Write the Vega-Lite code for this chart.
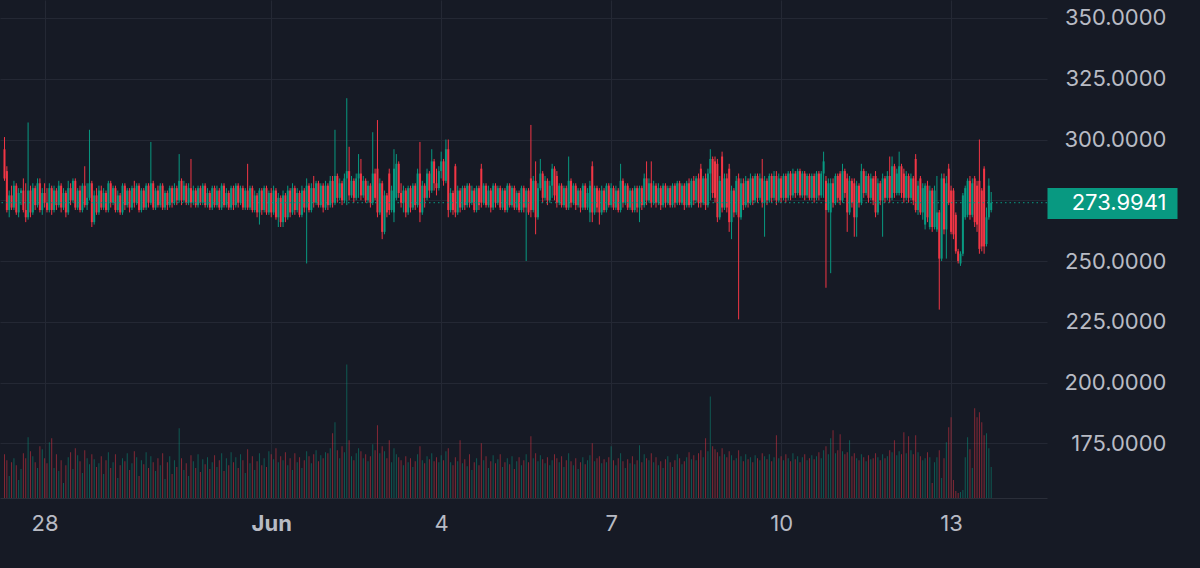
{
  "$schema": "https://vega.github.io/schema/vega-lite/v6.json",
  "width": 1047,
  "height": 498,
  "autosize": {"type": "none"},
  "padding": {"left": 0, "top": 0, "right": 153, "bottom": 70},
  "background": "#161a25",
  "layer": [
    {
      "data": {
        "format": {"parse": {"t": "utc:'%m-%d %H'"}},
        "values": [
          {"t":"05-27 07","o":296,"h":301,"l":283,"c":284,"v":44},
          {"t":"05-27 08","o":287,"h":289,"l":270,"c":271,"v":38},
          {"t":"05-27 09","o":271,"h":279,"l":268,"c":277,"v":22},
          {"t":"05-27 10","o":277,"h":281,"l":271,"c":272,"v":36},
          {"t":"05-27 11","o":272,"h":283,"l":271,"c":281,"v":40},
          {"t":"05-27 12","o":281,"h":282,"l":269,"c":270,"v":33},
          {"t":"05-27 13","o":270,"h":280,"l":268,"c":278,"v":18},
          {"t":"05-27 14","o":278,"h":280,"l":273,"c":279,"v":29},
          {"t":"05-27 15","o":279,"h":284,"l":270,"c":271,"v":45},
          {"t":"05-27 16","o":271,"h":282,"l":266,"c":268,"v":40},
          {"t":"05-27 17","o":268,"h":307,"l":267,"c":279,"v":61},
          {"t":"05-27 18","o":279,"h":281,"l":268,"c":270,"v":47},
          {"t":"05-27 19","o":270,"h":282,"l":269,"c":280,"v":42},
          {"t":"05-27 20","o":280,"h":281,"l":271,"c":273,"v":36},
          {"t":"05-27 21","o":273,"h":284,"l":272,"c":282,"v":30},
          {"t":"05-27 22","o":282,"h":284,"l":270,"c":271,"v":52},
          {"t":"05-27 23","o":271,"h":280,"l":269,"c":278,"v":49},
          {"t":"05-28 00","o":278,"h":282,"l":272,"c":274,"v":40},
          {"t":"05-28 01","o":274,"h":280,"l":270,"c":271,"v":35},
          {"t":"05-28 02","o":271,"h":282,"l":270,"c":280,"v":56},
          {"t":"05-28 03","o":280,"h":281,"l":269,"c":271,"v":60},
          {"t":"05-28 04","o":271,"h":281,"l":270,"c":279,"v":30},
          {"t":"05-28 05","o":279,"h":280,"l":271,"c":273,"v":44},
          {"t":"05-28 06","o":273,"h":283,"l":272,"c":281,"v":27},
          {"t":"05-28 07","o":281,"h":282,"l":270,"c":272,"v":38},
          {"t":"05-28 08","o":272,"h":280,"l":271,"c":278,"v":15},
          {"t":"05-28 09","o":278,"h":279,"l":268,"c":270,"v":33},
          {"t":"05-28 10","o":270,"h":283,"l":269,"c":280,"v":41},
          {"t":"05-28 11","o":280,"h":282,"l":273,"c":275,"v":46},
          {"t":"05-28 12","o":275,"h":284,"l":274,"c":283,"v":29},
          {"t":"05-28 13","o":283,"h":284,"l":271,"c":272,"v":50},
          {"t":"05-28 14","o":272,"h":280,"l":271,"c":279,"v":43},
          {"t":"05-28 15","o":279,"h":281,"l":270,"c":271,"v":37},
          {"t":"05-28 16","o":271,"h":282,"l":270,"c":281,"v":25},
          {"t":"05-28 17","o":281,"h":289,"l":272,"c":273,"v":48},
          {"t":"05-28 18","o":273,"h":282,"l":271,"c":276,"v":40},
          {"t":"05-28 19","o":276,"h":304,"l":275,"c":282,"v":34},
          {"t":"05-28 20","o":282,"h":283,"l":264,"c":266,"v":44},
          {"t":"05-28 21","o":266,"h":279,"l":265,"c":277,"v":39},
          {"t":"05-28 22","o":277,"h":280,"l":269,"c":270,"v":31},
          {"t":"05-28 23","o":270,"h":281,"l":269,"c":279,"v":35},
          {"t":"05-29 00","o":279,"h":281,"l":271,"c":272,"v":42},
          {"t":"05-29 01","o":272,"h":280,"l":271,"c":278,"v":24},
          {"t":"05-29 02","o":278,"h":279,"l":270,"c":271,"v":38},
          {"t":"05-29 03","o":271,"h":283,"l":270,"c":282,"v":46},
          {"t":"05-29 04","o":282,"h":283,"l":272,"c":274,"v":30},
          {"t":"05-29 05","o":274,"h":281,"l":273,"c":280,"v":36},
          {"t":"05-29 06","o":280,"h":281,"l":270,"c":271,"v":44},
          {"t":"05-29 07","o":271,"h":279,"l":270,"c":277,"v":20},
          {"t":"05-29 08","o":277,"h":278,"l":269,"c":270,"v":33},
          {"t":"05-29 09","o":270,"h":282,"l":269,"c":281,"v":40},
          {"t":"05-29 10","o":281,"h":282,"l":271,"c":273,"v":37},
          {"t":"05-29 11","o":273,"h":280,"l":272,"c":279,"v":45},
          {"t":"05-29 12","o":279,"h":280,"l":270,"c":272,"v":28},
          {"t":"05-29 13","o":272,"h":281,"l":271,"c":280,"v":35},
          {"t":"05-29 14","o":280,"h":283,"l":272,"c":274,"v":47},
          {"t":"05-29 15","o":274,"h":282,"l":273,"c":281,"v":41},
          {"t":"05-29 16","o":281,"h":282,"l":270,"c":271,"v":22},
          {"t":"05-29 17","o":271,"h":280,"l":270,"c":279,"v":38},
          {"t":"05-29 18","o":279,"h":280,"l":271,"c":272,"v":34},
          {"t":"05-29 19","o":272,"h":282,"l":271,"c":281,"v":46},
          {"t":"05-29 20","o":281,"h":282,"l":272,"c":274,"v":30},
          {"t":"05-29 21","o":274,"h":299,"l":273,"c":282,"v":42},
          {"t":"05-29 22","o":282,"h":283,"l":271,"c":272,"v":36},
          {"t":"05-29 23","o":272,"h":280,"l":271,"c":279,"v":27},
          {"t":"05-30 00","o":279,"h":281,"l":272,"c":273,"v":40},
          {"t":"05-30 01","o":273,"h":282,"l":272,"c":281,"v":33},
          {"t":"05-30 02","o":281,"h":282,"l":271,"c":272,"v":45},
          {"t":"05-30 03","o":272,"h":279,"l":271,"c":278,"v":19},
          {"t":"05-30 04","o":278,"h":279,"l":271,"c":273,"v":36},
          {"t":"05-30 05","o":273,"h":281,"l":272,"c":280,"v":42},
          {"t":"05-30 06","o":280,"h":281,"l":272,"c":274,"v":24},
          {"t":"05-30 07","o":274,"h":282,"l":273,"c":280,"v":38},
          {"t":"05-30 08","o":280,"h":281,"l":273,"c":275,"v":31},
          {"t":"05-30 09","o":275,"h":294,"l":274,"c":283,"v":70},
          {"t":"05-30 10","o":283,"h":284,"l":273,"c":275,"v":40},
          {"t":"05-30 11","o":275,"h":283,"l":274,"c":281,"v":28},
          {"t":"05-30 12","o":281,"h":282,"l":273,"c":274,"v":35},
          {"t":"05-30 13","o":274,"h":282,"l":273,"c":280,"v":22},
          {"t":"05-30 14","o":280,"h":292,"l":272,"c":274,"v":43},
          {"t":"05-30 15","o":274,"h":281,"l":273,"c":279,"v":37},
          {"t":"05-30 16","o":279,"h":280,"l":272,"c":273,"v":30},
          {"t":"05-30 17","o":273,"h":281,"l":272,"c":280,"v":44},
          {"t":"05-30 18","o":280,"h":281,"l":273,"c":274,"v":26},
          {"t":"05-30 19","o":274,"h":282,"l":273,"c":281,"v":39},
          {"t":"05-30 20","o":281,"h":282,"l":272,"c":273,"v":34},
          {"t":"05-30 21","o":273,"h":280,"l":272,"c":278,"v":41},
          {"t":"05-30 22","o":278,"h":279,"l":271,"c":272,"v":29},
          {"t":"05-30 23","o":272,"h":281,"l":271,"c":280,"v":36},
          {"t":"05-31 00","o":280,"h":281,"l":272,"c":273,"v":43},
          {"t":"05-31 01","o":273,"h":281,"l":272,"c":279,"v":31},
          {"t":"05-31 02","o":279,"h":280,"l":271,"c":272,"v":38},
          {"t":"05-31 03","o":272,"h":282,"l":271,"c":281,"v":45},
          {"t":"05-31 04","o":281,"h":282,"l":272,"c":273,"v":27},
          {"t":"05-31 05","o":273,"h":280,"l":272,"c":278,"v":40},
          {"t":"05-31 06","o":278,"h":279,"l":271,"c":272,"v":33},
          {"t":"05-31 07","o":272,"h":281,"l":271,"c":280,"v":46},
          {"t":"05-31 08","o":280,"h":281,"l":271,"c":273,"v":36},
          {"t":"05-31 09","o":273,"h":282,"l":272,"c":281,"v":41},
          {"t":"05-31 10","o":281,"h":282,"l":272,"c":274,"v":30},
          {"t":"05-31 11","o":274,"h":281,"l":273,"c":280,"v":44},
          {"t":"05-31 12","o":280,"h":281,"l":271,"c":272,"v":38},
          {"t":"05-31 13","o":272,"h":280,"l":271,"c":279,"v":25},
          {"t":"05-31 14","o":279,"h":290,"l":271,"c":272,"v":49},
          {"t":"05-31 15","o":272,"h":281,"l":271,"c":280,"v":35},
          {"t":"05-31 16","o":280,"h":281,"l":270,"c":271,"v":42},
          {"t":"05-31 17","o":271,"h":279,"l":270,"c":277,"v":28},
          {"t":"05-31 18","o":277,"h":278,"l":268,"c":270,"v":37},
          {"t":"05-31 19","o":270,"h":280,"l":265,"c":279,"v":45},
          {"t":"05-31 20","o":279,"h":280,"l":269,"c":271,"v":33},
          {"t":"05-31 21","o":271,"h":281,"l":270,"c":280,"v":40},
          {"t":"05-31 22","o":280,"h":281,"l":269,"c":270,"v":31},
          {"t":"05-31 23","o":270,"h":279,"l":269,"c":278,"v":47},
          {"t":"06-01 00","o":278,"h":280,"l":268,"c":270,"v":44},
          {"t":"06-01 01","o":270,"h":281,"l":269,"c":279,"v":39},
          {"t":"06-01 02","o":279,"h":280,"l":267,"c":268,"v":50},
          {"t":"06-01 03","o":268,"h":278,"l":264,"c":276,"v":36},
          {"t":"06-01 04","o":276,"h":277,"l":264,"c":266,"v":42},
          {"t":"06-01 05","o":266,"h":279,"l":264,"c":277,"v":38},
          {"t":"06-01 06","o":277,"h":278,"l":266,"c":268,"v":46},
          {"t":"06-01 07","o":268,"h":281,"l":267,"c":279,"v":33},
          {"t":"06-01 08","o":279,"h":280,"l":268,"c":270,"v":40},
          {"t":"06-01 09","o":270,"h":282,"l":269,"c":280,"v":28},
          {"t":"06-01 10","o":280,"h":281,"l":269,"c":271,"v":45},
          {"t":"06-01 11","o":271,"h":280,"l":270,"c":278,"v":36},
          {"t":"06-01 12","o":278,"h":279,"l":268,"c":269,"v":41},
          {"t":"06-01 13","o":269,"h":281,"l":268,"c":279,"v":30},
          {"t":"06-01 14","o":279,"h":280,"l":270,"c":272,"v":38},
          {"t":"06-01 15","o":272,"h":284,"l":249,"c":281,"v":47},
          {"t":"06-01 16","o":281,"h":282,"l":270,"c":271,"v":42},
          {"t":"06-01 17","o":271,"h":282,"l":270,"c":280,"v":35},
          {"t":"06-01 18","o":280,"h":285,"l":272,"c":274,"v":44},
          {"t":"06-01 19","o":274,"h":283,"l":273,"c":282,"v":48},
          {"t":"06-01 20","o":282,"h":283,"l":272,"c":273,"v":37},
          {"t":"06-01 21","o":273,"h":282,"l":272,"c":281,"v":43},
          {"t":"06-01 22","o":281,"h":282,"l":270,"c":272,"v":40},
          {"t":"06-01 23","o":272,"h":283,"l":271,"c":281,"v":46},
          {"t":"06-02 00","o":281,"h":282,"l":271,"c":273,"v":45},
          {"t":"06-02 01","o":273,"h":285,"l":272,"c":283,"v":50},
          {"t":"06-02 02","o":283,"h":285,"l":272,"c":274,"v":65},
          {"t":"06-02 03","o":274,"h":304,"l":273,"c":285,"v":76},
          {"t":"06-02 04","o":285,"h":286,"l":274,"c":276,"v":48},
          {"t":"06-02 05","o":276,"h":284,"l":275,"c":282,"v":40},
          {"t":"06-02 06","o":282,"h":283,"l":273,"c":275,"v":52},
          {"t":"06-02 07","o":275,"h":286,"l":274,"c":284,"v":46},
          {"t":"06-02 08","o":284,"h":317,"l":273,"c":287,"v":134},
          {"t":"06-02 09","o":287,"h":297,"l":275,"c":277,"v":58},
          {"t":"06-02 10","o":277,"h":285,"l":276,"c":283,"v":42},
          {"t":"06-02 11","o":283,"h":284,"l":274,"c":276,"v":38},
          {"t":"06-02 12","o":276,"h":286,"l":275,"c":284,"v":45},
          {"t":"06-02 13","o":284,"h":294,"l":276,"c":286,"v":50},
          {"t":"06-02 14","o":286,"h":292,"l":275,"c":277,"v":47},
          {"t":"06-02 15","o":277,"h":285,"l":276,"c":283,"v":40},
          {"t":"06-02 16","o":283,"h":284,"l":274,"c":275,"v":44},
          {"t":"06-02 17","o":275,"h":283,"l":274,"c":281,"v":37},
          {"t":"06-02 18","o":281,"h":282,"l":272,"c":274,"v":42},
          {"t":"06-02 19","o":274,"h":303,"l":273,"c":286,"v":54},
          {"t":"06-02 20","o":286,"h":288,"l":275,"c":276,"v":48},
          {"t":"06-02 21","o":288,"h":308,"l":268,"c":270,"v":73},
          {"t":"06-02 22","o":270,"h":284,"l":269,"c":282,"v":45},
          {"t":"06-02 23","o":282,"h":283,"l":259,"c":262,"v":52},
          {"t":"06-03 00","o":262,"h":279,"l":261,"c":277,"v":47},
          {"t":"06-03 01","o":277,"h":278,"l":268,"c":270,"v":40},
          {"t":"06-03 02","o":286,"h":288,"l":269,"c":271,"v":58},
          {"t":"06-03 03","o":271,"h":281,"l":270,"c":279,"v":36},
          {"t":"06-03 04","o":270,"h":296,"l":266,"c":288,"v":50},
          {"t":"06-03 05","o":276,"h":294,"l":275,"c":290,"v":44},
          {"t":"06-03 06","o":290,"h":291,"l":276,"c":278,"v":41},
          {"t":"06-03 07","o":278,"h":282,"l":272,"c":274,"v":38},
          {"t":"06-03 08","o":274,"h":281,"l":270,"c":279,"v":33},
          {"t":"06-03 09","o":279,"h":280,"l":268,"c":270,"v":42},
          {"t":"06-03 10","o":270,"h":281,"l":269,"c":280,"v":36},
          {"t":"06-03 11","o":280,"h":281,"l":270,"c":272,"v":40},
          {"t":"06-03 12","o":272,"h":282,"l":271,"c":281,"v":31},
          {"t":"06-03 13","o":281,"h":282,"l":271,"c":273,"v":37},
          {"t":"06-03 14","o":273,"h":288,"l":272,"c":286,"v":44},
          {"t":"06-03 15","o":286,"h":299,"l":266,"c":270,"v":52},
          {"t":"06-03 16","o":270,"h":283,"l":269,"c":281,"v":38},
          {"t":"06-03 17","o":281,"h":282,"l":272,"c":276,"v":35},
          {"t":"06-03 18","o":276,"h":288,"l":275,"c":286,"v":42},
          {"t":"06-03 19","o":286,"h":287,"l":276,"c":279,"v":39},
          {"t":"06-03 20","o":279,"h":296,"l":278,"c":291,"v":45},
          {"t":"06-03 21","o":291,"h":292,"l":279,"c":282,"v":37},
          {"t":"06-03 22","o":282,"h":288,"l":277,"c":280,"v":41},
          {"t":"06-03 23","o":280,"h":289,"l":279,"c":287,"v":36},
          {"t":"06-04 00","o":287,"h":295,"l":284,"c":291,"v":43},
          {"t":"06-04 01","o":291,"h":292,"l":281,"c":283,"v":38},
          {"t":"06-04 02","o":283,"h":300,"l":282,"c":296,"v":47},
          {"t":"06-04 03","o":296,"h":300,"l":268,"c":271,"v":50},
          {"t":"06-04 04","o":271,"h":280,"l":270,"c":278,"v":36},
          {"t":"06-04 05","o":278,"h":279,"l":269,"c":271,"v":33},
          {"t":"06-04 06","o":289,"h":290,"l":268,"c":270,"v":41},
          {"t":"06-04 07","o":270,"h":281,"l":269,"c":279,"v":37},
          {"t":"06-04 08","o":279,"h":280,"l":270,"c":272,"v":58},
          {"t":"06-04 09","o":272,"h":281,"l":271,"c":280,"v":35},
          {"t":"06-04 10","o":280,"h":281,"l":271,"c":273,"v":39},
          {"t":"06-04 11","o":273,"h":282,"l":272,"c":281,"v":32},
          {"t":"06-04 12","o":281,"h":282,"l":272,"c":274,"v":44},
          {"t":"06-04 13","o":274,"h":281,"l":273,"c":279,"v":28},
          {"t":"06-04 14","o":279,"h":280,"l":270,"c":271,"v":36},
          {"t":"06-04 15","o":271,"h":281,"l":270,"c":280,"v":40},
          {"t":"06-04 16","o":280,"h":281,"l":271,"c":273,"v":33},
          {"t":"06-04 17","o":288,"h":290,"l":272,"c":274,"v":55},
          {"t":"06-04 18","o":274,"h":282,"l":273,"c":281,"v":38},
          {"t":"06-04 19","o":281,"h":282,"l":272,"c":273,"v":42},
          {"t":"06-04 20","o":273,"h":281,"l":272,"c":279,"v":30},
          {"t":"06-04 21","o":279,"h":280,"l":270,"c":272,"v":37},
          {"t":"06-04 22","o":272,"h":282,"l":271,"c":281,"v":43},
          {"t":"06-04 23","o":281,"h":282,"l":272,"c":274,"v":35},
          {"t":"06-05 00","o":274,"h":281,"l":273,"c":280,"v":39},
          {"t":"06-05 01","o":280,"h":281,"l":271,"c":272,"v":44},
          {"t":"06-05 02","o":272,"h":280,"l":271,"c":279,"v":31},
          {"t":"06-05 03","o":279,"h":280,"l":270,"c":271,"v":36},
          {"t":"06-05 04","o":271,"h":282,"l":270,"c":281,"v":40},
          {"t":"06-05 05","o":281,"h":282,"l":272,"c":273,"v":34},
          {"t":"06-05 06","o":273,"h":281,"l":272,"c":280,"v":42},
          {"t":"06-05 07","o":280,"h":281,"l":271,"c":272,"v":29},
          {"t":"06-05 08","o":272,"h":279,"l":271,"c":278,"v":37},
          {"t":"06-05 09","o":278,"h":279,"l":270,"c":271,"v":41},
          {"t":"06-05 10","o":271,"h":281,"l":270,"c":280,"v":33},
          {"t":"06-05 11","o":280,"h":281,"l":270,"c":272,"v":38},
          {"t":"06-05 12","o":272,"h":280,"l":250,"c":279,"v":44},
          {"t":"06-05 13","o":279,"h":280,"l":269,"c":270,"v":36},
          {"t":"06-05 14","o":284,"h":306,"l":268,"c":271,"v":62},
          {"t":"06-05 15","o":271,"h":285,"l":270,"c":283,"v":40},
          {"t":"06-05 16","o":283,"h":291,"l":261,"c":268,"v":45},
          {"t":"06-05 17","o":268,"h":282,"l":267,"c":280,"v":37},
          {"t":"06-05 18","o":280,"h":292,"l":279,"c":286,"v":43},
          {"t":"06-05 19","o":286,"h":287,"l":274,"c":276,"v":39},
          {"t":"06-05 20","o":276,"h":285,"l":275,"c":283,"v":35},
          {"t":"06-05 21","o":283,"h":284,"l":273,"c":275,"v":41},
          {"t":"06-05 22","o":275,"h":283,"l":274,"c":281,"v":33},
          {"t":"06-05 23","o":281,"h":290,"l":276,"c":288,"v":38},
          {"t":"06-06 00","o":288,"h":289,"l":275,"c":277,"v":44},
          {"t":"06-06 01","o":285,"h":287,"l":272,"c":274,"v":40},
          {"t":"06-06 02","o":274,"h":282,"l":273,"c":281,"v":36},
          {"t":"06-06 03","o":281,"h":282,"l":272,"c":273,"v":42},
          {"t":"06-06 04","o":273,"h":281,"l":272,"c":280,"v":31},
          {"t":"06-06 05","o":280,"h":281,"l":271,"c":272,"v":38},
          {"t":"06-06 06","o":272,"h":293,"l":271,"c":283,"v":45},
          {"t":"06-06 07","o":283,"h":284,"l":272,"c":274,"v":37},
          {"t":"06-06 08","o":274,"h":282,"l":273,"c":281,"v":33},
          {"t":"06-06 09","o":281,"h":282,"l":271,"c":273,"v":40},
          {"t":"06-06 10","o":273,"h":280,"l":272,"c":279,"v":29},
          {"t":"06-06 11","o":279,"h":280,"l":270,"c":272,"v":36},
          {"t":"06-06 12","o":272,"h":282,"l":271,"c":281,"v":41},
          {"t":"06-06 13","o":281,"h":282,"l":271,"c":272,"v":34},
          {"t":"06-06 14","o":272,"h":280,"l":271,"c":278,"v":38},
          {"t":"06-06 15","o":270,"h":283,"l":266,"c":281,"v":43},
          {"t":"06-06 16","o":289,"h":291,"l":266,"c":270,"v":55},
          {"t":"06-06 17","o":270,"h":281,"l":269,"c":280,"v":37},
          {"t":"06-06 18","o":280,"h":281,"l":270,"c":272,"v":40},
          {"t":"06-06 19","o":279,"h":280,"l":265,"c":270,"v":42},
          {"t":"06-06 20","o":270,"h":281,"l":269,"c":279,"v":35},
          {"t":"06-06 21","o":279,"h":280,"l":270,"c":271,"v":39},
          {"t":"06-06 22","o":271,"h":282,"l":270,"c":281,"v":36},
          {"t":"06-06 23","o":281,"h":282,"l":272,"c":273,"v":41},
          {"t":"06-07 00","o":273,"h":282,"l":272,"c":280,"v":52},
          {"t":"06-07 01","o":280,"h":281,"l":271,"c":272,"v":38},
          {"t":"06-07 02","o":272,"h":281,"l":271,"c":279,"v":33},
          {"t":"06-07 03","o":279,"h":280,"l":270,"c":271,"v":40},
          {"t":"06-07 04","o":271,"h":290,"l":270,"c":283,"v":45},
          {"t":"06-07 05","o":283,"h":284,"l":272,"c":274,"v":37},
          {"t":"06-07 06","o":274,"h":282,"l":273,"c":281,"v":30},
          {"t":"06-07 07","o":281,"h":282,"l":271,"c":272,"v":39},
          {"t":"06-07 08","o":272,"h":280,"l":271,"c":279,"v":35},
          {"t":"06-07 09","o":279,"h":280,"l":270,"c":271,"v":42},
          {"t":"06-07 10","o":271,"h":281,"l":270,"c":280,"v":34},
          {"t":"06-07 11","o":280,"h":281,"l":270,"c":272,"v":38},
          {"t":"06-07 12","o":272,"h":281,"l":266,"c":280,"v":53},
          {"t":"06-07 13","o":280,"h":281,"l":271,"c":273,"v":36},
          {"t":"06-07 14","o":273,"h":286,"l":272,"c":284,"v":44},
          {"t":"06-07 15","o":284,"h":291,"l":273,"c":275,"v":40},
          {"t":"06-07 16","o":275,"h":284,"l":274,"c":282,"v":38},
          {"t":"06-07 17","o":282,"h":291,"l":272,"c":274,"v":45},
          {"t":"06-07 18","o":274,"h":283,"l":273,"c":281,"v":36},
          {"t":"06-07 19","o":281,"h":282,"l":272,"c":274,"v":41},
          {"t":"06-07 20","o":274,"h":282,"l":273,"c":280,"v":33},
          {"t":"06-07 21","o":280,"h":281,"l":271,"c":273,"v":37},
          {"t":"06-07 22","o":273,"h":282,"l":272,"c":281,"v":30},
          {"t":"06-07 23","o":281,"h":282,"l":272,"c":274,"v":39},
          {"t":"06-08 00","o":274,"h":281,"l":273,"c":280,"v":42},
          {"t":"06-08 01","o":280,"h":281,"l":272,"c":273,"v":36},
          {"t":"06-08 02","o":273,"h":282,"l":272,"c":281,"v":31},
          {"t":"06-08 03","o":281,"h":282,"l":272,"c":274,"v":38},
          {"t":"06-08 04","o":274,"h":283,"l":273,"c":282,"v":44},
          {"t":"06-08 05","o":282,"h":283,"l":273,"c":274,"v":40},
          {"t":"06-08 06","o":274,"h":282,"l":273,"c":281,"v":34},
          {"t":"06-08 07","o":281,"h":282,"l":271,"c":273,"v":37},
          {"t":"06-08 08","o":273,"h":283,"l":272,"c":282,"v":41},
          {"t":"06-08 09","o":282,"h":284,"l":272,"c":273,"v":46},
          {"t":"06-08 10","o":273,"h":284,"l":272,"c":283,"v":39},
          {"t":"06-08 11","o":283,"h":285,"l":273,"c":275,"v":43},
          {"t":"06-08 12","o":275,"h":285,"l":274,"c":284,"v":38},
          {"t":"06-08 13","o":284,"h":286,"l":272,"c":274,"v":45},
          {"t":"06-08 14","o":288,"h":290,"l":272,"c":274,"v":48},
          {"t":"06-08 15","o":274,"h":285,"l":273,"c":284,"v":41},
          {"t":"06-08 16","o":284,"h":286,"l":271,"c":273,"v":60},
          {"t":"06-08 17","o":273,"h":288,"l":272,"c":286,"v":47},
          {"t":"06-08 18","o":286,"h":296,"l":275,"c":292,"v":102},
          {"t":"06-08 19","o":292,"h":293,"l":276,"c":278,"v":52},
          {"t":"06-08 20","o":291,"h":293,"l":274,"c":276,"v":49},
          {"t":"06-08 21","o":290,"h":292,"l":266,"c":268,"v":46},
          {"t":"06-08 22","o":268,"h":285,"l":267,"c":283,"v":42},
          {"t":"06-08 23","o":293,"h":295,"l":270,"c":272,"v":50},
          {"t":"06-09 00","o":272,"h":286,"l":271,"c":284,"v":44},
          {"t":"06-09 01","o":284,"h":286,"l":270,"c":272,"v":41},
          {"t":"06-09 02","o":288,"h":290,"l":262,"c":266,"v":47},
          {"t":"06-09 03","o":266,"h":281,"l":259,"c":279,"v":43},
          {"t":"06-09 04","o":279,"h":280,"l":268,"c":270,"v":38},
          {"t":"06-09 05","o":270,"h":285,"l":269,"c":283,"v":40},
          {"t":"06-09 06","o":284,"h":286,"l":226,"c":268,"v":48},
          {"t":"06-09 07","o":268,"h":284,"l":267,"c":282,"v":42},
          {"t":"06-09 08","o":282,"h":284,"l":271,"c":273,"v":37},
          {"t":"06-09 09","o":273,"h":285,"l":272,"c":283,"v":44},
          {"t":"06-09 10","o":283,"h":284,"l":272,"c":274,"v":39},
          {"t":"06-09 11","o":274,"h":286,"l":273,"c":284,"v":41},
          {"t":"06-09 12","o":284,"h":285,"l":273,"c":275,"v":36},
          {"t":"06-09 13","o":275,"h":286,"l":274,"c":285,"v":43},
          {"t":"06-09 14","o":285,"h":286,"l":274,"c":276,"v":40},
          {"t":"06-09 15","o":276,"h":286,"l":275,"c":284,"v":38},
          {"t":"06-09 16","o":284,"h":292,"l":272,"c":274,"v":45},
          {"t":"06-09 17","o":274,"h":285,"l":260,"c":283,"v":42},
          {"t":"06-09 18","o":283,"h":284,"l":273,"c":275,"v":39},
          {"t":"06-09 19","o":275,"h":286,"l":274,"c":285,"v":44},
          {"t":"06-09 20","o":285,"h":286,"l":274,"c":276,"v":37},
          {"t":"06-09 21","o":276,"h":287,"l":275,"c":285,"v":41},
          {"t":"06-09 22","o":285,"h":287,"l":273,"c":275,"v":63},
          {"t":"06-09 23","o":275,"h":286,"l":274,"c":284,"v":40},
          {"t":"06-10 00","o":284,"h":285,"l":274,"c":276,"v":42},
          {"t":"06-10 01","o":276,"h":286,"l":275,"c":285,"v":38},
          {"t":"06-10 02","o":285,"h":286,"l":274,"c":276,"v":44},
          {"t":"06-10 03","o":276,"h":287,"l":275,"c":286,"v":40},
          {"t":"06-10 04","o":286,"h":287,"l":275,"c":277,"v":37},
          {"t":"06-10 05","o":277,"h":288,"l":276,"c":286,"v":45},
          {"t":"06-10 06","o":286,"h":287,"l":276,"c":278,"v":39},
          {"t":"06-10 07","o":278,"h":288,"l":277,"c":287,"v":42},
          {"t":"06-10 08","o":287,"h":288,"l":276,"c":277,"v":36},
          {"t":"06-10 09","o":277,"h":287,"l":276,"c":286,"v":41},
          {"t":"06-10 10","o":286,"h":287,"l":275,"c":277,"v":44},
          {"t":"06-10 11","o":277,"h":286,"l":276,"c":285,"v":38},
          {"t":"06-10 12","o":285,"h":286,"l":275,"c":276,"v":40},
          {"t":"06-10 13","o":276,"h":286,"l":275,"c":285,"v":43},
          {"t":"06-10 14","o":285,"h":286,"l":274,"c":276,"v":39},
          {"t":"06-10 15","o":276,"h":287,"l":275,"c":286,"v":42},
          {"t":"06-10 16","o":286,"h":287,"l":275,"c":277,"v":46},
          {"t":"06-10 17","o":277,"h":287,"l":276,"c":286,"v":40},
          {"t":"06-10 18","o":286,"h":295,"l":276,"c":291,"v":48},
          {"t":"06-10 19","o":283,"h":285,"l":239,"c":271,"v":52},
          {"t":"06-10 20","o":271,"h":284,"l":270,"c":282,"v":44},
          {"t":"06-10 21","o":270,"h":284,"l":245,"c":282,"v":60},
          {"t":"06-10 22","o":282,"h":284,"l":272,"c":274,"v":68},
          {"t":"06-10 23","o":274,"h":286,"l":273,"c":285,"v":45},
          {"t":"06-11 00","o":285,"h":286,"l":274,"c":276,"v":48},
          {"t":"06-11 01","o":286,"h":287,"l":273,"c":275,"v":64},
          {"t":"06-11 02","o":275,"h":290,"l":274,"c":287,"v":47},
          {"t":"06-11 03","o":287,"h":288,"l":276,"c":278,"v":44},
          {"t":"06-11 04","o":284,"h":286,"l":262,"c":270,"v":46},
          {"t":"06-11 05","o":270,"h":285,"l":269,"c":283,"v":58},
          {"t":"06-11 06","o":283,"h":284,"l":272,"c":274,"v":42},
          {"t":"06-11 07","o":282,"h":284,"l":260,"c":268,"v":45},
          {"t":"06-11 08","o":268,"h":283,"l":260,"c":281,"v":40},
          {"t":"06-11 09","o":281,"h":282,"l":272,"c":274,"v":38},
          {"t":"06-11 10","o":274,"h":290,"l":273,"c":287,"v":44},
          {"t":"06-11 11","o":287,"h":288,"l":276,"c":278,"v":41},
          {"t":"06-11 12","o":278,"h":287,"l":277,"c":285,"v":37},
          {"t":"06-11 13","o":285,"h":286,"l":274,"c":276,"v":43},
          {"t":"06-11 14","o":276,"h":286,"l":275,"c":284,"v":39},
          {"t":"06-11 15","o":284,"h":285,"l":273,"c":275,"v":40},
          {"t":"06-11 16","o":285,"h":287,"l":268,"c":270,"v":45},
          {"t":"06-11 17","o":270,"h":284,"l":269,"c":282,"v":41},
          {"t":"06-11 18","o":282,"h":283,"l":273,"c":275,"v":38},
          {"t":"06-11 19","o":275,"h":286,"l":260,"c":284,"v":44},
          {"t":"06-11 20","o":284,"h":285,"l":274,"c":276,"v":40},
          {"t":"06-11 21","o":276,"h":287,"l":275,"c":285,"v":42},
          {"t":"06-11 22","o":285,"h":293,"l":274,"c":276,"v":48},
          {"t":"06-11 23","o":276,"h":293,"l":275,"c":289,"v":46},
          {"t":"06-12 00","o":289,"h":290,"l":276,"c":278,"v":58},
          {"t":"06-12 01","o":278,"h":288,"l":277,"c":286,"v":43},
          {"t":"06-12 02","o":278,"h":295,"l":277,"c":289,"v":47},
          {"t":"06-12 03","o":289,"h":290,"l":276,"c":278,"v":44},
          {"t":"06-12 04","o":286,"h":288,"l":274,"c":276,"v":66},
          {"t":"06-12 05","o":276,"h":287,"l":275,"c":285,"v":45},
          {"t":"06-12 06","o":285,"h":286,"l":274,"c":276,"v":62},
          {"t":"06-12 07","o":276,"h":286,"l":275,"c":284,"v":48},
          {"t":"06-12 08","o":284,"h":285,"l":273,"c":275,"v":44},
          {"t":"06-12 09","o":292,"h":294,"l":270,"c":271,"v":63},
          {"t":"06-12 10","o":271,"h":283,"l":269,"c":281,"v":46},
          {"t":"06-12 11","o":284,"h":285,"l":269,"c":270,"v":42},
          {"t":"06-12 12","o":270,"h":282,"l":267,"c":280,"v":38},
          {"t":"06-12 13","o":265,"h":282,"l":263,"c":281,"v":40},
          {"t":"06-12 14","o":281,"h":283,"l":266,"c":268,"v":46},
          {"t":"06-12 15","o":264,"h":281,"l":263,"c":279,"v":41},
          {"t":"06-12 16","o":279,"h":280,"l":262,"c":264,"v":15},
          {"t":"06-12 17","o":264,"h":281,"l":263,"c":279,"v":36},
          {"t":"06-12 18","o":263,"h":285,"l":262,"c":270,"v":41},
          {"t":"06-12 19","o":270,"h":271,"l":230,"c":251,"v":48},
          {"t":"06-12 20","o":251,"h":286,"l":250,"c":284,"v":20},
          {"t":"06-12 21","o":284,"h":286,"l":261,"c":263,"v":40},
          {"t":"06-12 22","o":263,"h":285,"l":251,"c":282,"v":56},
          {"t":"06-12 23","o":288,"h":290,"l":273,"c":274,"v":71},
          {"t":"06-13 00","o":279,"h":281,"l":261,"c":262,"v":81},
          {"t":"06-13 01","o":279,"h":280,"l":259,"c":261,"v":18},
          {"t":"06-13 02","o":269,"h":270,"l":253,"c":254,"v":7},
          {"t":"06-13 03","o":254,"h":255,"l":249,"c":250,"v":5},
          {"t":"06-13 04","o":249,"h":254,"l":248,"c":253,"v":6},
          {"t":"06-13 05","o":253,"h":278,"l":252,"c":277,"v":8},
          {"t":"06-13 06","o":268,"h":281,"l":267,"c":280,"v":41},
          {"t":"06-13 07","o":269,"h":284,"l":268,"c":283,"v":61},
          {"t":"06-13 08","o":283,"h":285,"l":267,"c":269,"v":49},
          {"t":"06-13 09","o":269,"h":284,"l":268,"c":282,"v":30},
          {"t":"06-13 10","o":284,"h":285,"l":264,"c":266,"v":90},
          {"t":"06-13 11","o":281,"h":283,"l":262,"c":265,"v":81},
          {"t":"06-13 12","o":283,"h":300,"l":253,"c":255,"v":86},
          {"t":"06-13 13","o":279,"h":280,"l":254,"c":256,"v":76},
          {"t":"06-13 14","o":288,"h":289,"l":253,"c":256,"v":63},
          {"t":"06-13 15","o":257,"h":272,"l":256,"c":268,"v":65},
          {"t":"06-13 16","o":268,"h":284,"l":267,"c":281,"v":50},
          {"t":"06-13 17","o":271,"h":278.4,"l":270,"c":273.9941,"v":31}
        ]
      },
      "encoding": {
        "x": {
          "field": "t", "type": "temporal", "title": null,
          "scale": {"type": "utc", "domain": [{"year": 1900, "month": 5, "date": 27, "hours": 7, "minutes": 13, "utc": true}, {"year": 1900, "month": 6, "date": 14, "hours": 14, "minutes": 31, "utc": true}]},
          "axis": {
            "values": [
              {"year": 1900, "month": 5, "date": 28, "utc": true},
              {"year": 1900, "month": 6, "date": 1, "utc": true},
              {"year": 1900, "month": 6, "date": 4, "utc": true},
              {"year": 1900, "month": 6, "date": 7, "utc": true},
              {"year": 1900, "month": 6, "date": 10, "utc": true},
              {"year": 1900, "month": 6, "date": 13, "utc": true}
            ],
            "labelExpr": "utcdate(datum.value) == 1 ? utcFormat(datum.value, '%b') : utcFormat(datum.value, '%-d')",
            "labelFontWeight": {"condition": {"test": "utcdate(datum.value) == 1", "value": "bold"}, "value": "normal"},
            "grid": true, "gridColor": "#242834", "ticks": false, "tickSize": 0,
            "domain": true, "domainColor": "#2a2e39",
            "labelPadding": 15, "labelFontSize": 22, "labelColor": "#b8bbc4", "labelFont": "Inter",
            "labelFlush": false, "labelOverlap": false
          }
        },
        "color": {"condition": {"test": "datum.c >= datum.o", "value": "#089981"}, "value": "#f23645"}
      },
      "layer": [
        {
          "mark": {"type": "bar", "size": 1, "opacity": 0.5},
          "encoding": {
            "y": {"field": "v", "type": "quantitative", "scale": {"domain": [0, 500], "nice": false}, "axis": null}
          }
        },
        {
          "mark": {"type": "rule", "strokeWidth": 1},
          "encoding": {
            "y": {
              "field": "l", "type": "quantitative", "title": null,
              "scale": {"domain": [152.5, 357.4], "nice": false, "zero": false},
              "axis": {
                "orient": "right",
                "values": [175, 200, 225, 250, 275, 300, 325, 350],
                "labelExpr": "datum.value == 275 ? '' : format(datum.value, '.4f')",
                "grid": true, "gridColor": "#242834", "ticks": false, "tickSize": 0, "domain": false,
                "labelAlign": "right", "labelPadding": 119, "labelFontSize": 22,
                "labelColor": "#b8bbc4", "labelFont": "Inter", "labelOverlap": false
              }
            },
            "y2": {"field": "h"}
          }
        },
        {
          "mark": {"type": "bar", "size": 2},
          "encoding": {
            "y": {"field": "o", "type": "quantitative", "scale": {"domain": [152.5, 357.4], "nice": false, "zero": false}, "axis": null},
            "y2": {"field": "c"}
          }
        }
      ],
      "resolve": {"scale": {"y": "independent"}}
    },
    {
      "data": {"values": [{"p": 273.9941}]},
      "mark": {"type": "rule", "color": "#089981", "strokeWidth": 1, "strokeDash": [1.5, 3]},
      "encoding": {
        "y": {
          "field": "p", "type": "quantitative", "title": null,
          "scale": {"domain": [152.5, 357.4], "nice": false, "zero": false},
          "axis": {
            "orient": "right", "values": [273.9941], "format": ".4f",
            "grid": false, "domain": false, "ticks": true, "tickSize": 130, "tickWidth": 31,
            "tickColor": "#089981", "labelAlign": "right", "labelPadding": -11,
            "labelFontSize": 22, "labelColor": "#ffffff", "labelFont": "Inter", "zindex": 1
          }
        }
      }
    }
  ],
  "resolve": {"scale": {"y": "independent"}},
  "config": {
    "view": {"stroke": null},
    "font": "Inter"
  }
}
